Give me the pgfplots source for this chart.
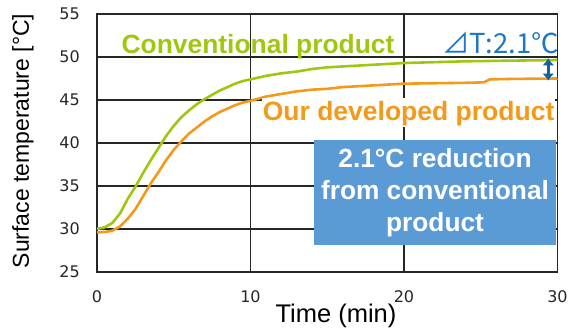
\documentclass[border=0pt]{standalone}
\usepackage{pgfplots}
\pgfplotsset{compat=1.18}
\usepackage{fontspec}
\setmainfont{Liberation Sans}
\newfontfamily\tickfont{DejaVu Sans}
\newfontfamily\cjkfont{Noto Sans CJK JP}
\usetikzlibrary{arrows.meta}
\definecolor{cgreen}{HTML}{9FC70F}
\definecolor{corange}{HTML}{F4991A}
\definecolor{cblue}{HTML}{5B9BD5}
\definecolor{dblue}{HTML}{1F77C4}
\begin{document}
\begin{tikzpicture}
\useasboundingbox (-97pt,-60pt) rectangle (474pt,272pt);
\begin{axis}[
  scale only axis,
  width=460.5pt, height=258pt,
  xmin=0, xmax=30, ymin=25, ymax=55,
  xtick={0,10,20,30}, ytick={25,30,35,40,45,50,55},
  major tick length=0pt,
  grid=major,
  major grid style={black!85, line width=1.5pt},
  axis line style={black!85, line width=1.5pt},
  /pgf/number format/assume math mode=true,
  xticklabel style={font=\tickfont\fontsize{16pt}{18pt}\selectfont, text=black!85, yshift=-15.5pt},
  yticklabel style={font=\tickfont\fontsize{16pt}{18pt}\selectfont, text=black!85, xshift=-13.7pt},
  xlabel={Time (min)},
  xlabel style={font=\fontsize{25.5pt}{28pt}\selectfont, at={(axis description cs:0.519,-0.17)}, anchor=center},
  ylabel={Surface temperature [°C]},
  ylabel style={font=\fontsize{23pt}{26pt}\selectfont, at={(axis description cs:-0.161,0.508)}, anchor=center},
  clip=false,
]
\addplot[corange, line width=2.6pt, line join=round] coordinates {
(0,29.6) (0.5,29.65) (1.0,29.8) (1.5,30.3) (2.0,31.2) (2.5,32.3) (3.0,33.8)
(3.5,35.3) (4.0,36.6) (4.5,38.0) (5.0,39.2) (5.5,40.2) (6.0,41.1) (6.5,41.8)
(7.0,42.5) (7.5,43.1) (8.0,43.6) (8.5,44.0) (9.0,44.4) (9.5,44.7) (10,44.9)
(11,45.4) (12,45.7) (13,46.0) (14,46.2) (15,46.3) (16,46.5) (17,46.6)
(18,46.7) (19,46.8) (20,46.9) (22,46.95) (24,47.0) (25.2,47.05) (25.6,47.4)
(27,47.45) (30,47.5)
};
\addplot[cgreen, line width=2.6pt, line join=round] coordinates {
(0,30.0) (0.5,30.2) (1.0,30.7) (1.5,31.8) (2.0,33.5) (2.5,34.9) (3.0,36.5)
(3.5,38.0) (4.0,39.4) (4.5,40.8) (5.0,42.0) (5.5,43.0) (6.0,43.8) (6.5,44.5)
(7.0,45.1) (7.5,45.6) (8.0,46.1) (8.5,46.5) (9.0,46.9) (9.5,47.2) (10,47.4)
(11,47.8) (12,48.1) (13,48.3) (14,48.6) (15,48.8) (16,48.9) (17,49.0)
(18,49.1) (19,49.2) (20,49.3) (22,49.4) (24,49.5) (26,49.55) (28,49.6)
(30,49.65)
};
\node[anchor=base, text=cgreen, font=\bfseries\fontsize{26.4pt}{30pt}\selectfont, inner sep=0pt]
  at (axis cs:10.49,50.43) {Conventional product};
\node[anchor=base, text=corange, fill=white, font=\bfseries\fontsize{26.5pt}{30pt}\selectfont, inner sep=1pt, text height=21pt, text depth=6pt]
  at (axis cs:20.3,42.67) {Our developed product};
\node[anchor=base east, text=dblue, font=\cjkfont\fontsize{27.5pt}{30pt}\selectfont, inner sep=0pt]
  at (axis cs:30.1,50.43) {⊿T:2.1℃};
\draw[dblue!80!black, line width=3.5pt, {Latex[length=7pt,width=12pt]}-{Latex[length=7pt,width=12pt]}]
  (axis cs:29.4,49.85) -- (axis cs:29.4,47.25);
\node[fill=cblue, text=white, font=\bfseries\fontsize{26.3pt}{32pt}\selectfont, align=center,
  minimum width=242pt, minimum height=105pt, inner sep=0pt]
  at (axis cs:22.02,34.24) {2.1°C reduction\\from conventional\\product};
\end{axis}
\end{tikzpicture}
\end{document}
